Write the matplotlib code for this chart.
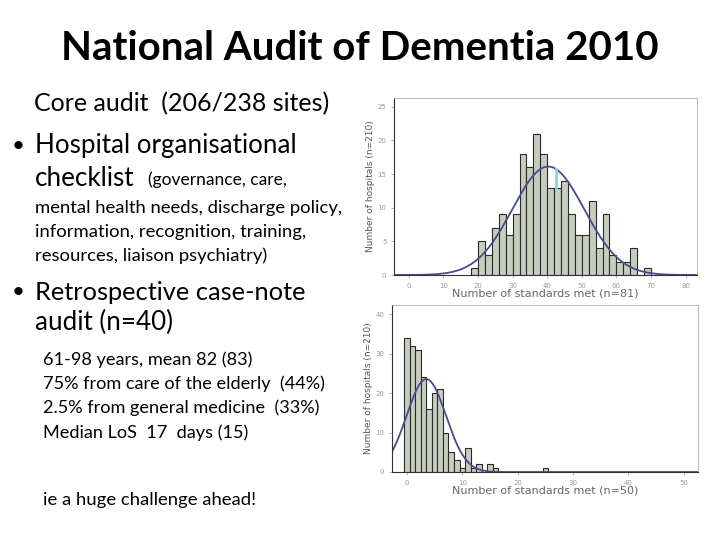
import numpy as np
import matplotlib
matplotlib.use("Agg")
from matplotlib import pyplot as plt

# dane z histogramow
org_edges = np.arange(18, 70, 2)          # lewe krawedzie przedzialow co 2 standardy
org_counts = [1, 5, 3, 7, 9, 6, 9, 18, 16, 21, 18, 13, 13, 14, 9, 6, 6, 11, 4, 9, 3, 2, 2, 4, 0, 1]
org_mean, org_sd = 40.3, 10.4

case_edges = np.arange(-0.5, 25.5, 1)     # lewe krawedzie przedzialow co 1 standard
case_counts = [34, 32, 31, 24, 16, 20, 21, 10, 5, 3, 1, 6, 1, 2, 0, 2, 1, 0, 0, 0, 0, 0, 0, 0, 0, 1]
case_mean, case_sd = 3.5, 3.56

n_hosp = 210
bar_col = "#c6cdbc"
curve_col = "#4a4890"

W, H = 720, 540
fig = plt.figure(figsize=(7.2, 5.4), dpi=100)
F = "Lato"

def txt(x, y, s, size, **kw):
    # pozycja w pikselach (od lewego gornego rogu)
    fig.text(x / W, 1 - y / H, s, fontsize=size, family=F, va="center", **kw)

txt(360, 48, "National Audit of Dementia 2010", 29, ha="center", fontweight="bold")
txt(34, 104, "Core audit  (206/238 sites)", 18)
txt(12, 146, "\u2022", 16)
txt(35, 146, "Hospital organisational", 18.7)
txt(35, 178, "checklist", 18.7)
txt(148, 180, "(governance, care,", 12.5)
txt(35, 208, "mental health needs, discharge policy,", 13.3)
txt(35, 232, "information, recognition, training,", 13.3)
txt(35, 256, "resources, liaison psychiatry)", 13.3)
txt(12, 292, "\u2022", 16)
txt(35, 292, "Retrospective case-note", 18.3)
txt(35, 322, "audit (n=40)", 18.7)
txt(43, 360, "61-98 years, mean 82 (83)", 13.1)
txt(43, 384, "75% from care of the elderly  (44%)", 13.1)
txt(43, 408, "2.5% from general medicine  (33%)", 13.1)
txt(43, 433, "Median LoS  17  days (15)", 13.1)
txt(43, 500, "ie a huge challenge ahead!", 13.3)


def hist(rect, edges, counts, mean, sd, width, xlim, ylim, xticks, yticks, xlabel):
    ax = fig.add_axes(rect)
    ax.bar(edges, counts, width=width, align="edge", color=bar_col,
           edgecolor="#2a2a2a", linewidth=0.8)
    xs = np.linspace(xlim[0], xlim[1], 400)
    ys = n_hosp * width / (sd * np.sqrt(2 * np.pi)) * np.exp(-0.5 * ((xs - mean) / sd) ** 2)
    ax.plot(xs, ys, color=curve_col, lw=1.3)
    ax.set_xlim(*xlim)
    ax.set_ylim(*ylim)
    ax.set_xticks(xticks)
    ax.set_yticks(yticks)
    ax.tick_params(labelsize=5, colors="#999999", length=2, width=0.5)
    for s in ["top", "right"]:
        ax.spines[s].set_color("#aaaaaa")
        ax.spines[s].set_linewidth(0.6)
    for s in ["left", "bottom"]:
        ax.spines[s].set_color("#333333")
        ax.spines[s].set_linewidth(0.8)
    ax.set_xlabel(xlabel, fontsize=8, color="#666666", family="DejaVu Sans", labelpad=0)
    ax.set_ylabel("Number of hospitals (n=210)", fontsize=6.5, color="#555555",
                  family=["Liberation Sans Narrow", "DejaVu Sans"], labelpad=2)
    return ax


ax1 = hist([394 / W, 1 - 275 / H, 303 / W, 177 / H], org_edges, org_counts, org_mean, org_sd,
           2, (-4.3, 83.3), (0, 26.3), range(0, 81, 10), range(0, 26, 5),
           "Number of standards met (n=81)")
# mala niebieska kreska w okolicy 42-43
ax1.plot([42.6, 42.6], [13, 15.8], color="#7fd8ea", lw=2)

ax2 = hist([392 / W, 1 - 472 / H, 306 / W, 167 / H], case_edges, case_counts, case_mean, case_sd,
           1, (-2.7, 52.6), (0, 42.3), range(0, 51, 10), range(0, 41, 10),
           "Number of standards met (n=50)")

fig.savefig("out.png", dpi=100)
